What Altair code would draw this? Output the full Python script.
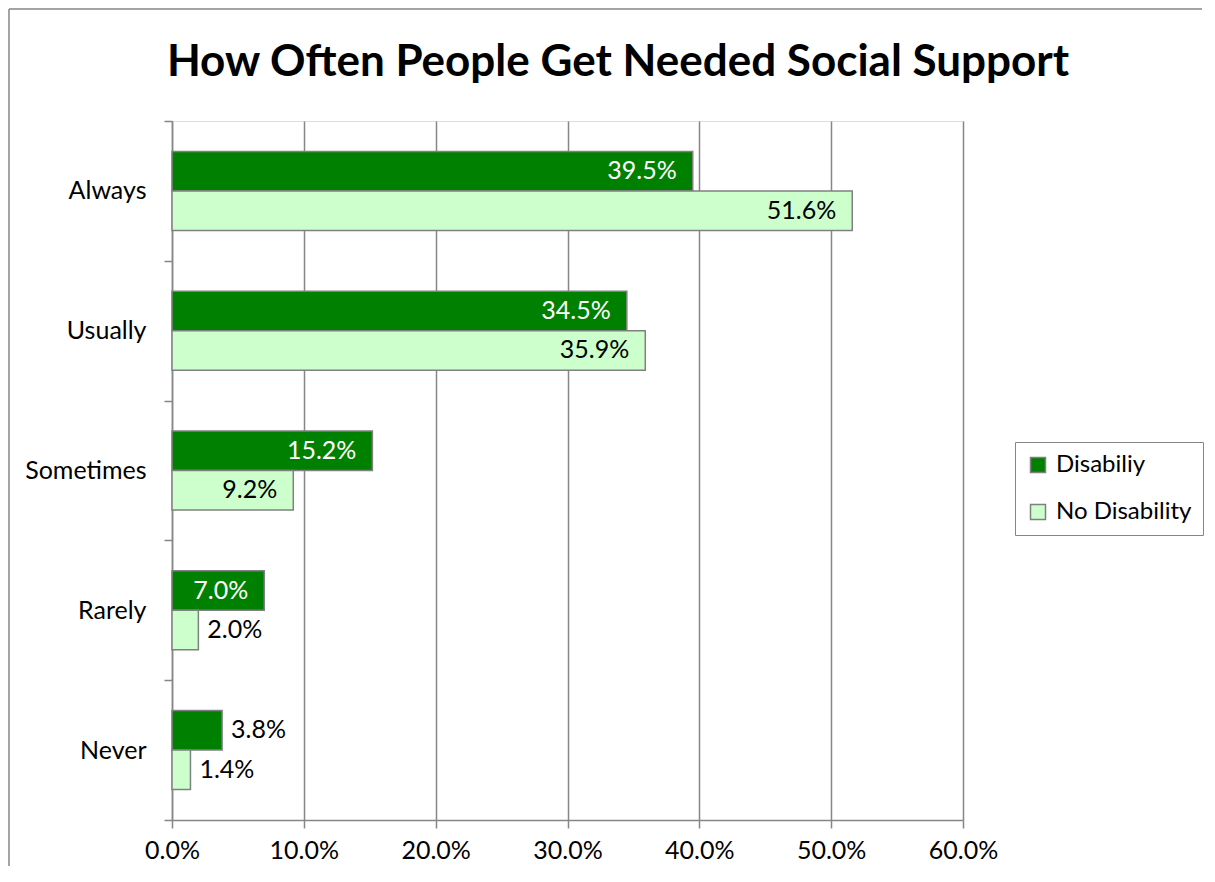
import altair as alt
import pandas as pd

categories = ["Always", "Usually", "Sometimes", "Rarely", "Never"]
series_names = ["Disabiliy", "No Disability"]
disability = [39.5, 34.5, 15.2, 7.0, 3.8]
no_disability = [51.6, 35.9, 9.2, 2.0, 1.4]
x_ticks = [0.0, 0.1, 0.2, 0.3, 0.4, 0.5, 0.6]
title_text = "How Often People Get Needed Social Support"

rows = []
for c, v in zip(categories, disability):
    rows.append({"category": c, "series": series_names[0], "frac": v / 100})
for c, v in zip(categories, no_disability):
    rows.append({"category": c, "series": series_names[1], "frac": v / 100})
df = pd.DataFrame(rows)

FONT = "Lato"
GRAY = "#868686"

W, H = 791, 699

x_enc = alt.X(
    "frac:Q",
    scale=alt.Scale(domain=[0, 0.6], nice=False),
    axis=alt.Axis(
        format=".1%", values=x_ticks, grid=True, gridColor=GRAY, gridWidth=1.5,
        tickColor=GRAY, tickWidth=1.5, tickSize=8, domainColor=GRAY, domainWidth=1.5,
        labelFontSize=25, labelFont=FONT, labelColor="black", labelPadding=10, title=None,
        labelFlush=False, labelOverlap=False,
    ),
)
y_enc = alt.Y(
    "category:N",
    sort=categories,
    scale=alt.Scale(paddingInner=0, paddingOuter=0),
    axis=alt.Axis(
        tickBand="extent", tickSize=8, tickColor=GRAY, tickWidth=1.5,
        domainColor=GRAY, domainWidth=1.5, labelFontSize=25, labelFont=FONT,
        labelColor="black", labelPadding=18, title=None, grid=False,
    ),
)
yoff = alt.YOffset("series:N", sort=series_names,
                   scale=alt.Scale(paddingInner=0, paddingOuter=0.77))

base = alt.Chart(df)

bars = base.mark_bar(stroke="#808080", strokeWidth=1.5).encode(
    x=x_enc, y=y_enc, yOffset=yoff,
    color=alt.Color(
        "series:N",
        scale=alt.Scale(domain=series_names, range=["#008000", "#CCFFCC"]),
        legend=alt.Legend(
            title=None, orient="none", legendX=843, legendY=321,
            strokeColor=GRAY, padding=11, rowPadding=23,
            symbolType="square", symbolSize=225, symbolStrokeColor="#808080",
            symbolStrokeWidth=1.5, labelFontSize=24, labelFont=FONT, labelColor="black",
            labelOffset=6, fillColor="white",
        ),
    ),
)

inside = base.transform_filter("datum.frac >= 0.05").mark_text(
    align="right", baseline="middle", dx=-16, fontSize=25, font=FONT
).encode(
    x="frac:Q", y=alt.Y("category:N", sort=categories), yOffset=yoff,
    text=alt.Text("frac:Q", format=".1%"),
    color=alt.condition("datum.series == 'Disabiliy'", alt.value("white"), alt.value("black")),
)

outside = base.transform_filter("datum.frac < 0.05").mark_text(
    align="left", baseline="middle", dx=9, fontSize=25, font=FONT, color="black"
).encode(
    x="frac:Q", y=alt.Y("category:N", sort=categories), yOffset=yoff,
    text=alt.Text("frac:Q", format=".1%"),
)

one = pd.DataFrame({"t": [title_text]})

title = alt.Chart(one).mark_text(
    font=FONT, fontWeight="bold", fontSize=44, align="center", baseline="alphabetic", color="black"
).encode(x=alt.value(446), y=alt.value(-45), text="t:N")

vline = alt.Chart(one).mark_rule(color=GRAY, strokeWidth=1.5).encode(
    x=alt.value(-163), y=alt.value(-112), y2=alt.value(745)
)
hline = alt.Chart(one).mark_rule(color=GRAY, strokeWidth=1.5).encode(
    x=alt.value(-163), x2=alt.value(1030), y=alt.value(-112)
)

chart = alt.layer(bars, inside, outside, title, vline, hline).properties(
    width=W, height=H, padding=0
).configure_view(stroke=GRAY, strokeWidth=1.5).configure(background="white")

chart.save("out.html", embed_options={"renderer": "svg", "actions": False})
